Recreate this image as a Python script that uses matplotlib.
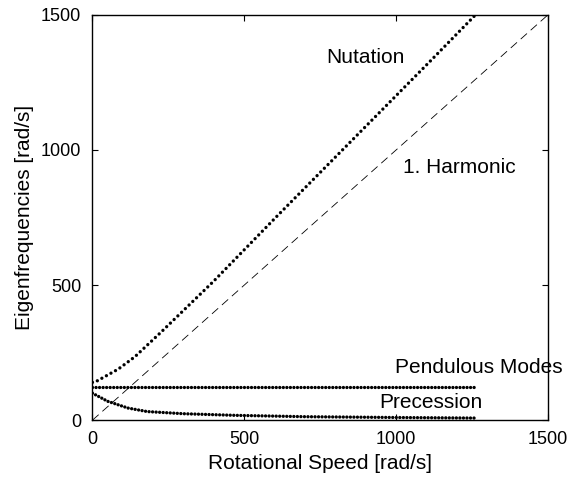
import matplotlib
matplotlib.use("Agg")
import matplotlib.pyplot as plt

plt.rcParams['font.family'] = ['Liberation Sans', 'DejaVu Sans']

# values
nutation_x = [0, 10, 85, 140, 228, 398, 606, 1110, 1258]
nutation_y = [140, 142, 189, 235, 328, 513, 753, 1326, 1496]

pendulous_x = [0, 1258]
pendulous_y = [124, 124]

precession_x = [0, 50, 117, 180, 300, 470, 700, 1000, 1258]
precession_y = [100, 70, 45, 32, 24, 18, 13, 10, 8]

harmonic_x = [0, 1500]
harmonic_y = [0, 1500]

ticks = [0, 500, 1000, 1500]

fig = plt.figure(figsize=(5.85, 4.83), dpi=100)
ax = fig.add_axes([0.158, 0.13, 0.779, 0.8396])

dot = dict(color='black', linewidth=2.4, dash_capstyle='round', solid_capstyle='round')
ax.plot(nutation_x, nutation_y, linestyle=(0, (0.01, 1.55)), **dot)
ax.plot(pendulous_x, pendulous_y, linestyle=(0, (0.01, 1.05)), **dot)
ax.plot(precession_x, precession_y, linestyle=(0, (0.01, 1.05)), **dot)
ax.plot(harmonic_x, harmonic_y, color='black', linewidth=0.6, linestyle=(0, (10, 6)))

fs = 15
ax.text(897, 1343, 'Nutation', ha='center', va='center', fontsize=fs)
ax.text(1209, 933, '1. Harmonic', ha='center', va='center', fontsize=fs)
ax.text(1272, 196, 'Pendulous Modes', ha='center', va='center', fontsize=fs)
ax.text(1113, 64, 'Precession', ha='center', va='center', fontsize=fs)

ax.set_xlim(0, 1500)
ax.set_ylim(0, 1500)
ax.set_xticks(ticks)
ax.set_yticks(ticks)
ax.tick_params(direction='in', top=True, right=True, length=4, width=0.8,
               labelsize=13, pad=8)
for s in ax.spines.values():
    s.set_linewidth(1.0)

ax.set_xlabel('Rotational Speed [rad/s]', fontsize=15, labelpad=4)
ax.set_ylabel('Eigenfrequencies [rad/s]', fontsize=15, labelpad=5)

fig.savefig('out.png', dpi=100)
